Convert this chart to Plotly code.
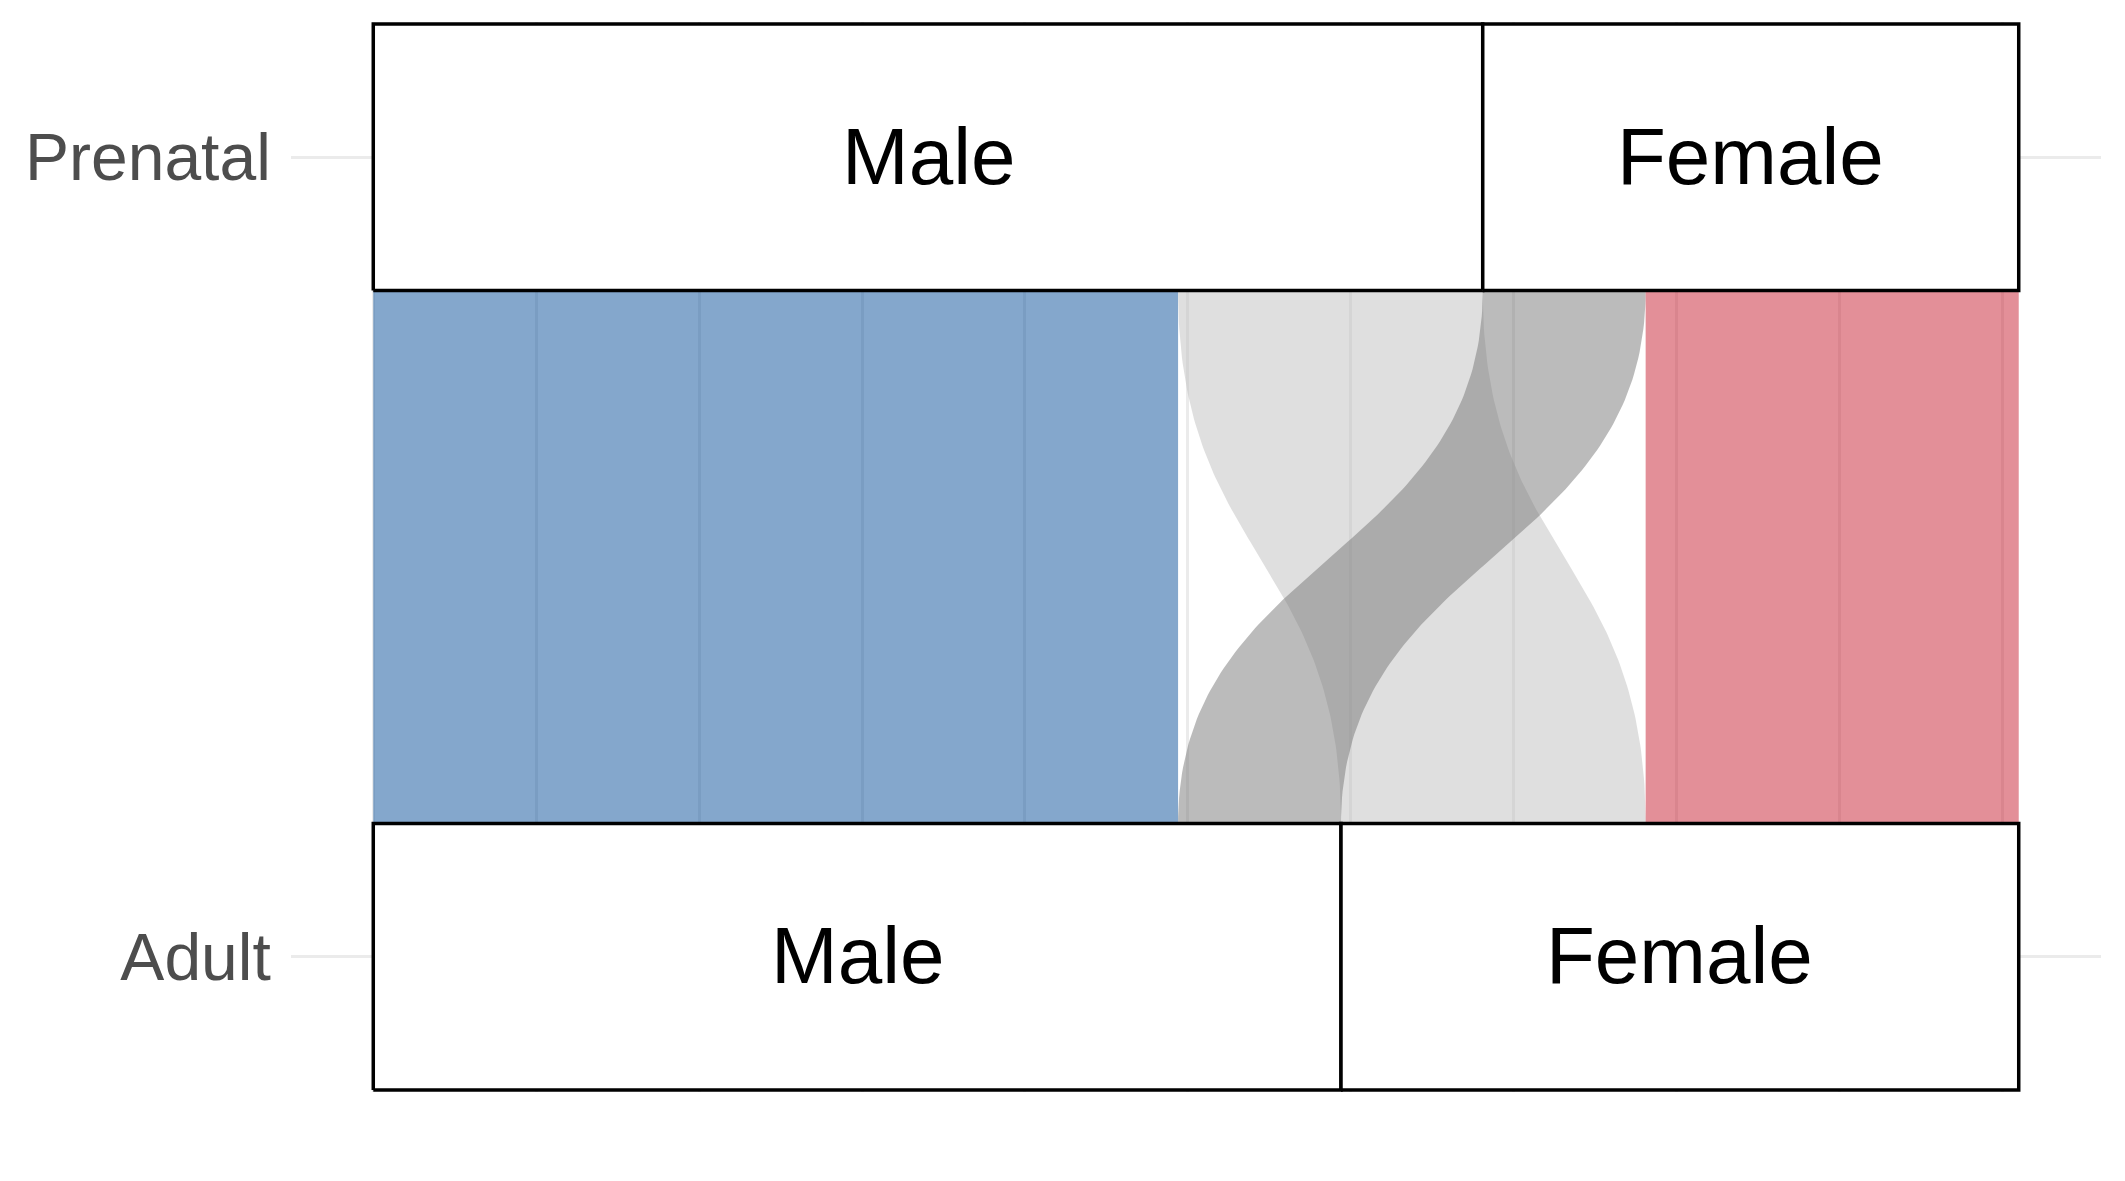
import plotly.graph_objects as go
import numpy as np

# ---- data ----
stages = ["Prenatal", "Adult"]          # top axis, bottom axis
sexes = ["Male", "Female"]              # stratum order (left to right)
flow_from = ["Male", "Male", "Female", "Female"]   # Prenatal sex
flow_to = ["Male", "Female", "Male", "Female"]     # Adult sex
flow_n = [49.4, 18.7, 10.0, 22.9]

# ---- styles ----
flow_fill = {
    ("Male", "Male"): "rgba(9,79,153,0.5)",
    ("Male", "Female"): "rgba(191,191,191,0.5)",
    ("Female", "Male"): "rgba(119,119,119,0.5)",
    ("Female", "Female"): "rgba(199,31,49,0.5)",
}
FONT = "Liberation Sans, Arial, Helvetica, sans-serif"

total = sum(flow_n)
ypos = {"Prenatal": 2.0, "Adult": 1.0}
hw = 1.0 / 6.0  # half stratum width

# stratum extents
def stratum_extents(stage):
    key = flow_from if stage == "Prenatal" else flow_to
    ext = {}
    start = 0.0
    for s in sexes:
        tot = sum(n for k, n in zip(key, flow_n) if k == s)
        ext[s] = (start, start + tot)
        start += tot
    return ext

ext_top = stratum_extents("Prenatal")
ext_bot = stratum_extents("Adult")

# flow positions within strata
top_pos, bot_pos = {}, {}
for s in sexes:
    cur = ext_top[s][0]
    for t in sexes:
        for f, to, n in zip(flow_from, flow_to, flow_n):
            if f == s and to == t:
                top_pos[(f, to)] = (cur, cur + n)
                cur += n
for t in sexes:
    cur = ext_bot[t][0]
    for s in sexes:
        for f, to, n in zip(flow_from, flow_to, flow_n):
            if f == s and to == t:
                bot_pos[(f, to)] = (cur, cur + n)
                cur += n

fig = go.Figure()

u = np.linspace(0, 1, 120)
sx = 3 * u**2 - 2 * u**3
sy = 1.5 * u - 1.5 * u**2 + u**3
y_top = ypos["Prenatal"] - hw
y_bot = ypos["Adult"] + hw

for f, to in zip(flow_from, flow_to):
    a0, a1 = top_pos[(f, to)]
    b0, b1 = bot_pos[(f, to)]
    xl = a0 + (b0 - a0) * sx
    yl = y_top + (y_bot - y_top) * sy
    xr = a1 + (b1 - a1) * sx
    yr = yl
    xs = np.concatenate([xl, xr[::-1], [xl[0]]])
    ys = np.concatenate([yl, yr[::-1], [yl[0]]])
    fig.add_trace(go.Scatter(
        x=xs, y=ys, mode="lines", fill="toself",
        fillcolor=flow_fill[(f, to)], line=dict(width=0),
        hoverinfo="skip", showlegend=False))

# strata boxes
annotations = []
for stage, ext in (("Prenatal", ext_top), ("Adult", ext_bot)):
    yc = ypos[stage]
    for s in sexes:
        x0, x1 = ext[s]
        fig.add_trace(go.Scatter(
            x=[x0, x1, x1, x0, x0],
            y=[yc - hw, yc - hw, yc + hw, yc + hw, yc - hw],
            mode="lines", fill="toself", fillcolor="white",
            line=dict(color="black", width=3.5),
            hoverinfo="skip", showlegend=False))
        annotations.append(dict(
            x=(x0 + x1) / 2, y=yc, xref="x", yref="y", text=s,
            showarrow=False, xanchor="center", yanchor="middle",
            yshift=1,
            font=dict(family=FONT, size=80, color="black")))

e = 0.0025
fig.update_layout(
    width=2125, height=1181,
    margin=dict(l=291, r=24, t=22, b=89),
    paper_bgcolor="white", plot_bgcolor="white",
    showlegend=False,
    annotations=annotations,
    xaxis=dict(
        range=[-0.05 * total, 1.05 * total],
        tick0=0, dtick=10,
        showticklabels=False, ticks="",
        showgrid=True, gridcolor="#ebebeb", gridwidth=2.5,
        zeroline=False, showline=False,
    ),
    yaxis=dict(
        range=[1 - hw - e, 2 + hw + e],
        tickvals=[ypos[s] for s in stages], ticktext=stages,
        ticks="outside", ticklen=6, tickcolor="rgba(0,0,0,0)",
        tickfont=dict(family=FONT, size=66, color="#4d4d4d"),
        showgrid=True, gridcolor="#ebebeb", gridwidth=3,
        zeroline=False, showline=False,
    ),
)

fig.write_html("out.html")
